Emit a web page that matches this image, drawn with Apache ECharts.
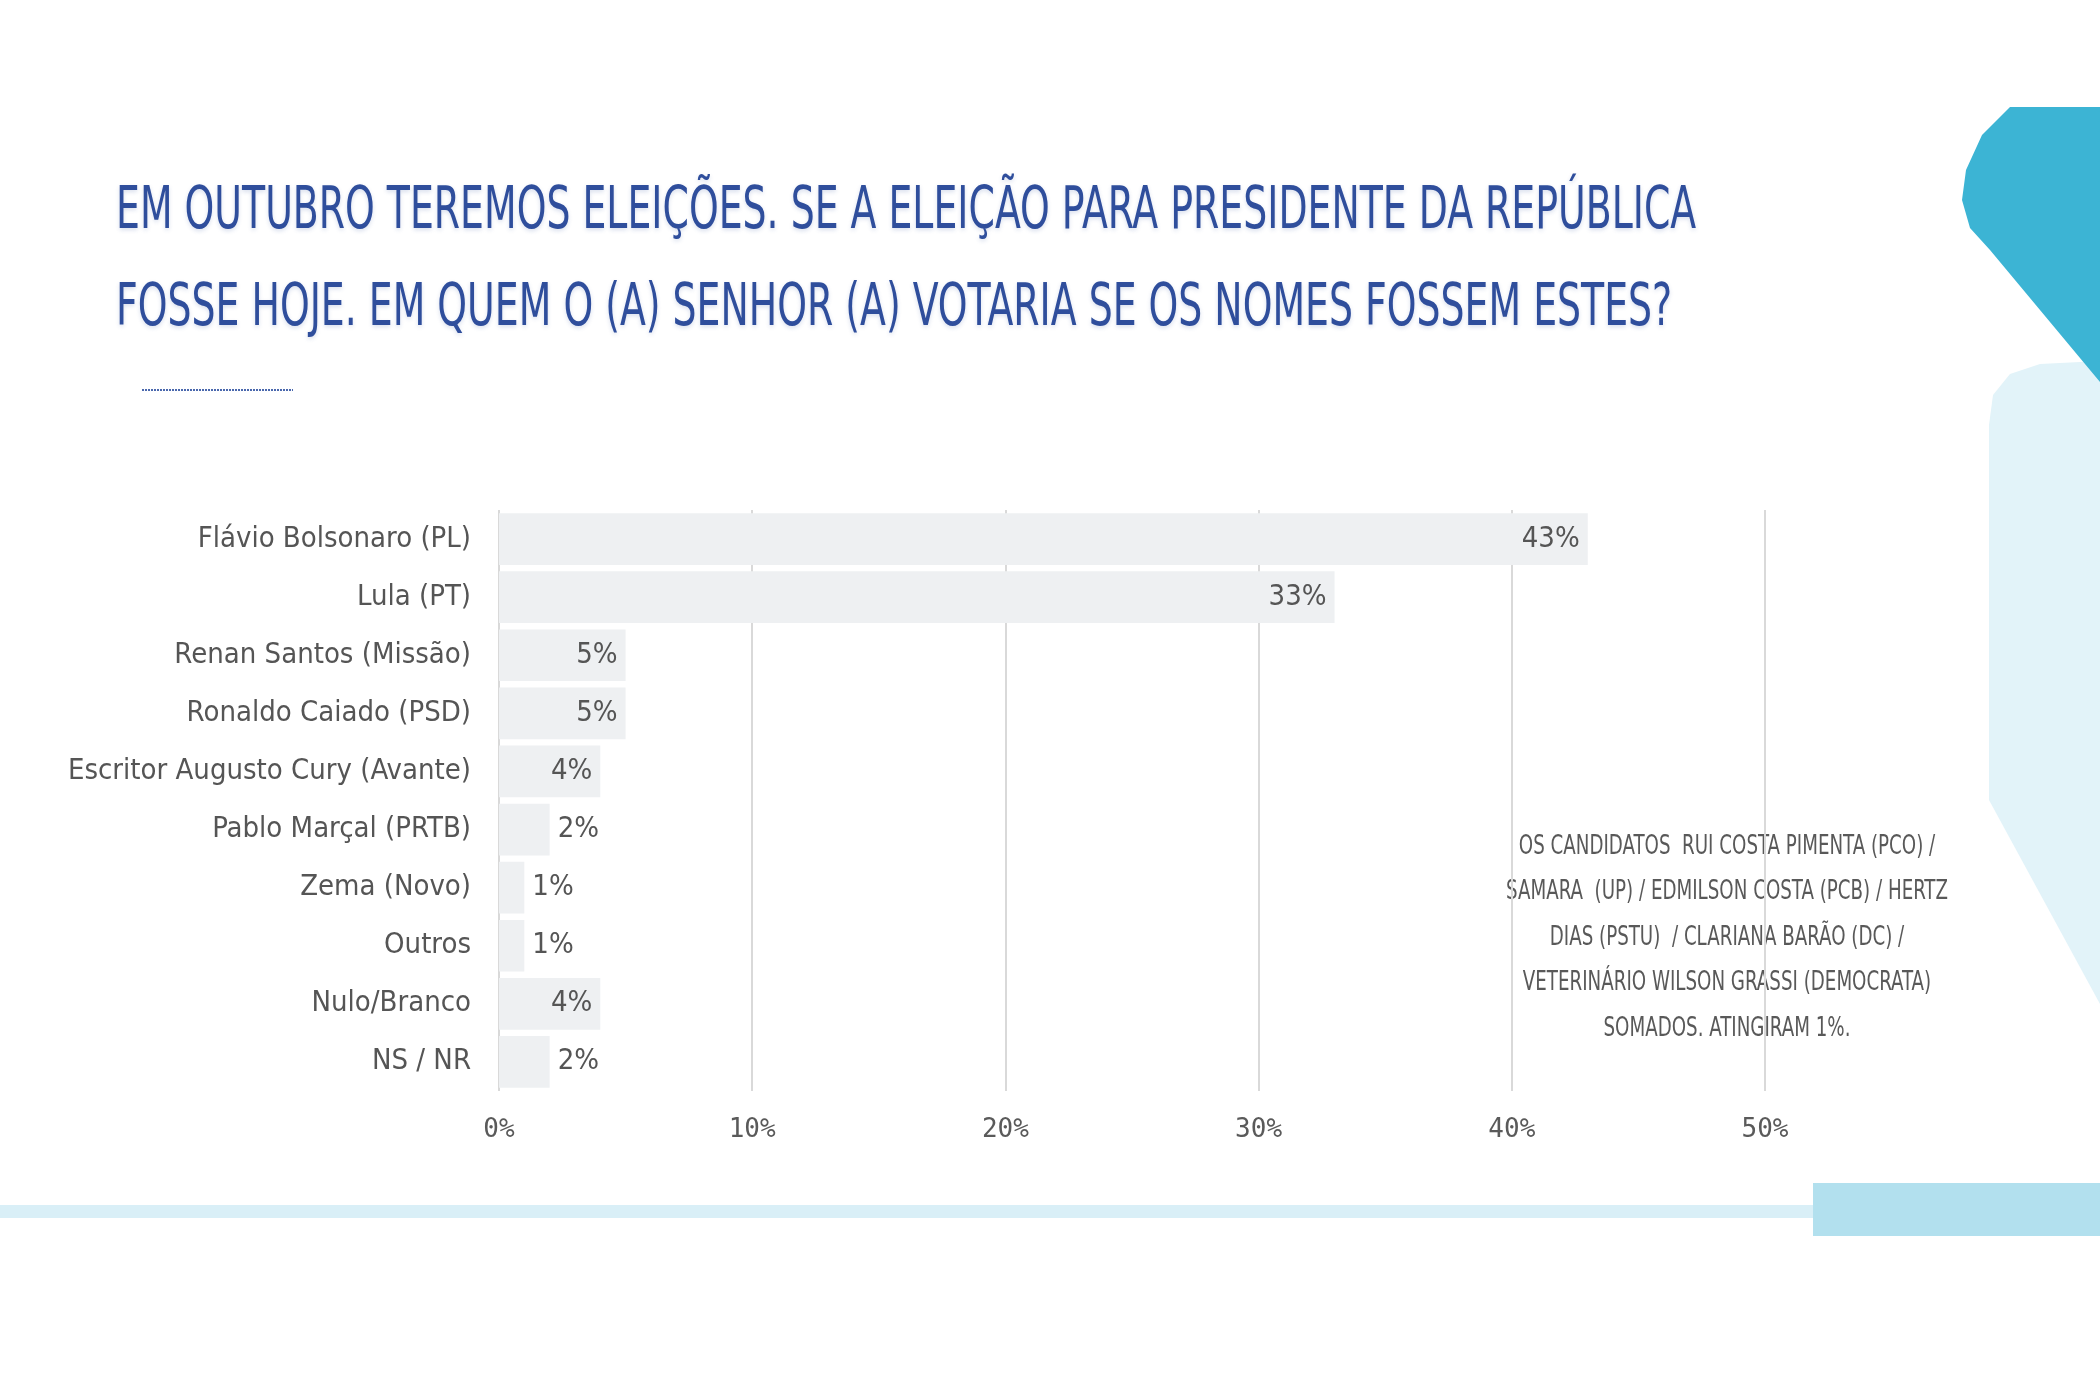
<!DOCTYPE html>
<html>
<head>
<meta charset="utf-8">
<script src="https://cdn.jsdelivr.net/npm/echarts@6/dist/echarts.min.js"></script>
<style>
  html, body { margin: 0; padding: 0; background: #fff; }
  #chart { width: 2100px; height: 1400px; }
</style>
</head>
<body>
<div id="chart"></div>
<script>
// data
const categories = [
  'Flávio Bolsonaro (PL)',
  'Lula (PT)',
  'Renan Santos (Missão)',
  'Ronaldo Caiado (PSD)',
  'Escritor Augusto Cury (Avante)',
  'Pablo Marçal (PRTB)',
  'Zema (Novo)',
  'Outros',
  'Nulo/Branco',
  'NS / NR'
];
const values = [43, 33, 5, 5, 4, 2, 1, 1, 4, 2];

const titleLines = [
  'EM OUTUBRO TEREMOS ELEIÇÕES. SE A ELEIÇÃO PARA PRESIDENTE DA REPÚBLICA',
  'FOSSE HOJE. EM QUEM O (A) SENHOR (A) VOTARIA SE OS NOMES FOSSEM ESTES?'
];
const noteLines = [
  'OS CANDIDATOS  RUI COSTA PIMENTA (PCO) /',
  'SAMARA  (UP) / EDMILSON COSTA (PCB) / HERTZ',
  'DIAS (PSTU)  / CLARIANA BARÃO (DC) /',
  'VETERINÁRIO WILSON GRASSI (DEMOCRATA)',
  'SOMADOS. ATINGIRAM 1%.'
];

const chart = echarts.init(document.getElementById('chart'));

const narrow = '"Liberation Sans Narrow", "DejaVu Sans Condensed", sans-serif';

// bars too short for the label get it outside
const barData = values.map(v => ({
  value: v,
  label: { position: v >= 4 ? 'insideRight' : 'right' }
}));

const graphics = [
  // decorative shapes on the right
  {
    type: 'polygon', z: -10, silent: true,
    shape: { points: [[1989, 425], [1993, 395], [2010, 374], [2040, 364], [2100, 361], [2100, 1004], [1989, 800]] },
    style: { fill: '#e2f3f9' }
  },
  {
    type: 'polygon', z: -9, silent: true,
    shape: { points: [[2010, 107], [2100, 107], [2100, 382], [1990, 250], [1970, 228], [1962, 200], [1966, 170], [1982, 135]] },
    style: { fill: '#3cb4d4' }
  },
  // bottom bands
  {
    type: 'rect', z: -10, silent: true,
    shape: { x: 0, y: 1205, width: 1989, height: 13 },
    style: { fill: '#d9eff7' }
  },
  {
    type: 'rect', z: -9, silent: true,
    shape: { x: 1813, y: 1183, width: 287, height: 53 },
    style: { fill: '#b2e0ee' }
  },
  // small underline below title
  {
    type: 'line', silent: true,
    shape: { x1: 142, y1: 390, x2: 293, y2: 390 },
    style: { stroke: '#4a68ad', lineWidth: 2, lineDash: [2, 1] }
  }
];

titleLines.forEach((t, i) => {
  graphics.push({
    type: 'text', silent: true,
    x: 116, y: 213 + i * 97,
    scaleX: 0.725, originX: 0,
    style: {
      text: t,
      font: '58px ' + narrow,
      fill: '#2f4e9c',
      verticalAlign: 'middle',
      textShadowColor: 'rgba(47,78,156,0.18)',
      textShadowBlur: 4,
      textShadowOffsetY: 2
    }
  });
});

noteLines.forEach((t, i) => {
  graphics.push({
    type: 'text', silent: true,
    x: 1727, y: 847 + i * 45.5,
    scaleX: 0.78, originX: 0,
    style: {
      text: t,
      font: '26px ' + narrow,
      fill: '#595959',
      align: 'center',
      verticalAlign: 'middle'
    }
  });
});

chart.setOption({
  backgroundColor: '#ffffff',
  animation: false,
  grid: { left: 499, right: 335, top: 510, height: 581, containLabel: false },
  xAxis: {
    type: 'value',
    min: 0,
    max: 50,
    interval: 10,
    axisLine: { show: false },
    axisTick: { show: false },
    axisLabel: {
      formatter: '{value}%',
      fontFamily: '"DejaVu Sans Mono", monospace',
      fontSize: 26,
      color: '#5a5a5a',
      margin: 26
    },
    splitLine: { show: true, lineStyle: { color: '#d9d9d9', width: 2 } }
  },
  yAxis: {
    type: 'category',
    data: categories,
    inverse: true,
    axisLine: { show: false },
    axisTick: { show: false },
    axisLabel: {
      fontFamily: narrow,
      fontSize: 29,
      color: '#555555',
      margin: 28
    }
  },
  series: [{
    type: 'bar',
    data: barData,
    barCategoryGap: '11%',
    itemStyle: { color: '#eef0f2' },
    label: {
      show: true,
      formatter: '{c}%',
      fontFamily: narrow,
      fontSize: 29,
      color: '#555555',
      distance: 8
    }
  }],
  graphic: graphics
});
</script>
</body>
</html>
